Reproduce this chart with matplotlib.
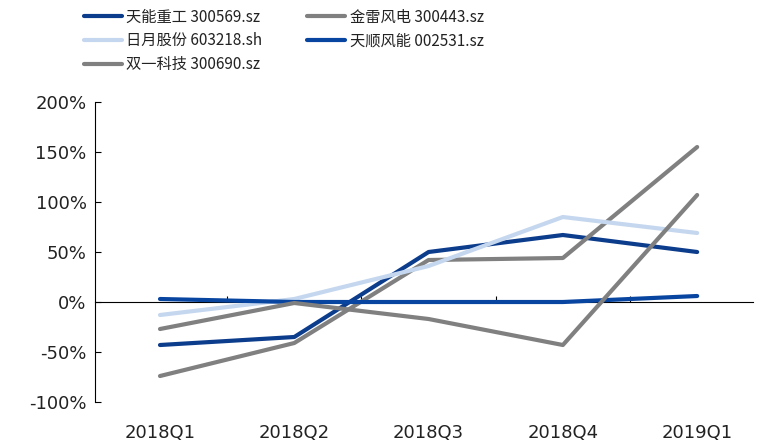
import matplotlib.pyplot as plt
from matplotlib.ticker import FixedLocator, NullFormatter

plt.rcParams['font.family'] = ['Noto Sans CJK SC', 'DejaVu Sans']

quarters = ['2018Q1', '2018Q2', '2018Q3', '2018Q4', '2019Q1']

# growth, %
tianneng = [-43, -35, 50, 67, 50]
jinlei = [-74, -41, 42, 44, 155]
riyue = [-13, 3, 36, 85, 69]
tianshun = [3, 0, 0, 0, 6]
shuangyi = [-27, -1, -17, -43, 107]

labels = ['天能重工 300569.sz', '金雷风电 300443.sz', '日月股份 603218.sh',
          '天顺风能 002531.sz', '双一科技 300690.sz']
colors = ['#0c3c8c', '#808080', '#c5d7ee', '#0845a0', '#808080']
series = [tianneng, jinlei, riyue, tianshun, shuangyi]

fig = plt.figure(figsize=(7.6, 4.45), dpi=100)
ax = fig.add_axes([0.125, 0.0966, 0.866, 0.6742])

x = list(range(len(quarters)))
lines = []
for ys, c, lab in zip(series, colors, labels):
    ln, = ax.plot(x, ys, color=c, lw=3.0, solid_capstyle='round',
                  solid_joinstyle='round', label=lab)
    lines.append(ln)

ax.set_xlim(-0.484, 4.417)
ax.set_ylim(-100, 200)
ax.set_yticks([-100, -50, 0, 50, 100, 150, 200])
ax.set_yticklabels([f'{v}%' for v in ax.get_yticks().astype(int)],
                   family='DejaVu Sans', fontsize=13, color='#222222')
ax.tick_params(axis='y', direction='in', length=4, width=0.8, pad=6)

ax.set_xticks(x)
ax.set_xticklabels(quarters, family='DejaVu Sans', fontsize=13, color='#222222')
ax.tick_params(axis='x', length=0, pad=16)

for s in ['top', 'right', 'bottom']:
    ax.spines[s].set_visible(False)
ax.spines['left'].set_linewidth(0.8)

# zero line with category-boundary ticks
sec = ax.secondary_xaxis(1 / 3)
sec.xaxis.set_major_locator(FixedLocator([0.5, 1.5, 2.5, 3.5]))
sec.xaxis.set_major_formatter(NullFormatter())
sec.tick_params(direction='in', length=4, width=0.8)
sec.spines['bottom'].set_linewidth(0.8)
sec.set_zorder(0)

order = [0, 2, 4, 1, 3]
leg = fig.legend([lines[i] for i in order], [labels[i] for i in order],
                 ncol=2, loc='upper left', bbox_to_anchor=(0.092, 1.012),
                 frameon=False, fontsize=11, handlelength=2.5, handletextpad=0.3,
                 columnspacing=2.9, labelspacing=0.45)
for t in leg.get_texts():
    t.set_color('#222222')

fig.savefig('out.png', dpi=100)
